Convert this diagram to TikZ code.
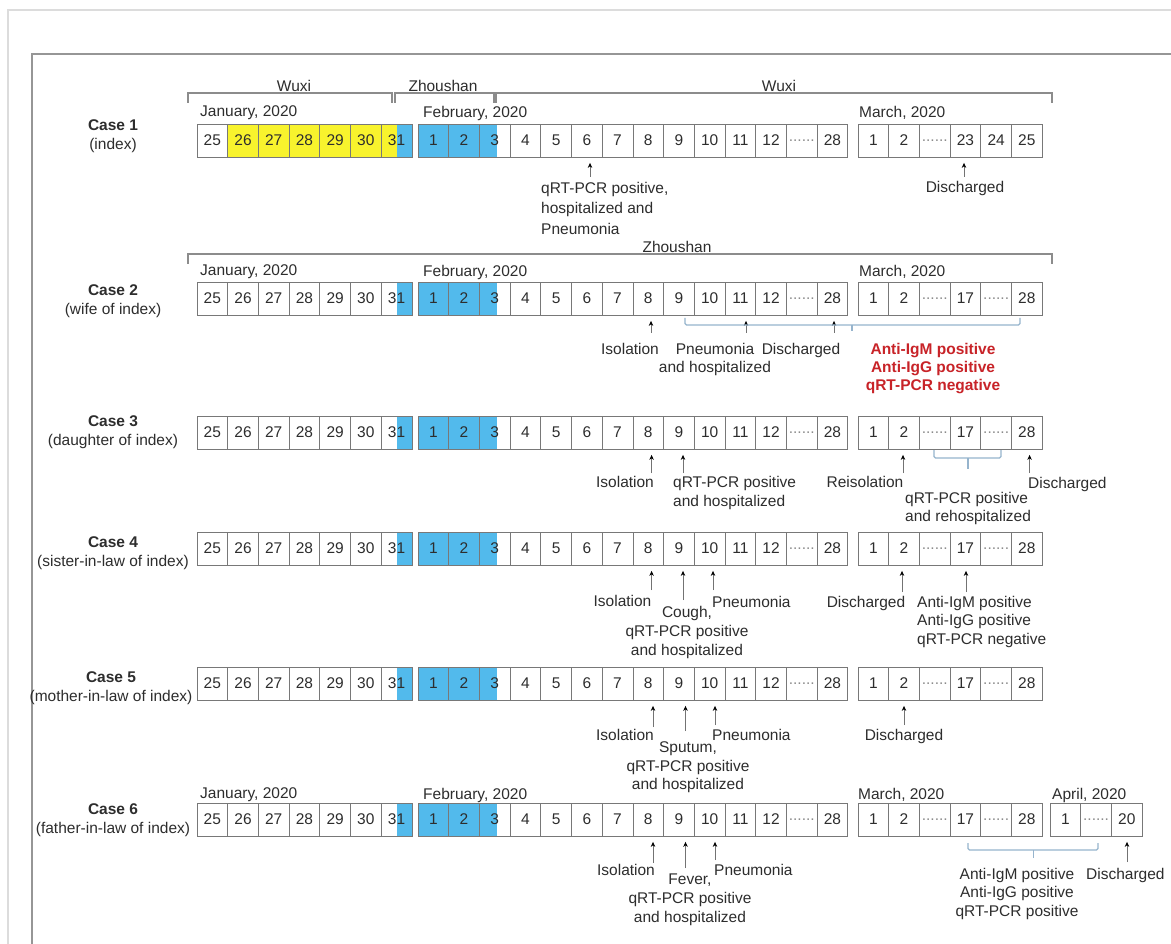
\documentclass[tikz,border=0pt]{standalone}
\usepackage{fontspec}
\setmainfont{Liberation Sans}
\usetikzlibrary{arrows.meta}
\definecolor{cyel}{RGB}{248,243,45}
\definecolor{cblu}{RGB}{82,186,236}
\definecolor{cbrd}{RGB}{120,120,120}
\definecolor{ctxt}{RGB}{45,45,45}
\definecolor{cbrk}{RGB}{140,140,140}
\definecolor{cbrc}{RGB}{150,180,205}
\definecolor{cred}{RGB}{200,35,40}
\definecolor{cfra}{RGB}{220,220,220}
\definecolor{cfrb}{RGB}{150,150,150}
\protected\def\dts{\textcolor{ctxt!55}{......}}
% #1 row id, #2 top y, #3 March labels
\newcommand{\dayrow}[3]{%
  \foreach \d [count=\i from 0] in {25,26,27,28,29,30,31}
    \node[cell] (#1j\i) at ({197+30.7*(\i+0.5)},{#2+16.5}) {\d};
  \foreach \d [count=\i from 0] in {1,2,3,4,5,6,7,8,9,10,11,12,\dts,28}
    \node[cell] (#1f\i) at ({418+30.7*(\i+0.5)},{#2+16.5}) {\d};
  \foreach \d [count=\i from 0] in {#3}
    \node[cell] (#1m\i) at ({858+30.7*(\i+0.5)},{#2+16.5}) {\d};
}
\newcommand{\blufill}[1]{%
  \fill[cblu] (396.7,#1) rectangle (411.9,#1+33);
  \fill[cblu] (418,#1) rectangle (497,#1+33);
}
% #1 coord name, #2 x, #3 tail y, #4 target cell
\newcommand{\marr}[4]{%
  \coordinate (#1) at (#2,#3);
  \draw[arr] (#1) -- (#1 |- #4.south);
}
\begin{document}
\begin{tikzpicture}[x=1pt,y=-1pt,
  txtfont/.style={font=\fontsize{15.5}{19}\selectfont},
  every node/.style={txtfont, text=ctxt},
  cell/.style={draw=cbrd, line width=0.8pt, minimum width=30.7pt, minimum height=33pt, inner sep=0pt, anchor=center},
  lbl/.style={inner sep=0pt, anchor=north, align=center},
  lbll/.style={inner sep=0pt, anchor=north west, align=left},
  month/.style={inner sep=0pt, anchor=west},
  caselbl/.style={inner sep=0pt, anchor=north, align=center, font=\fontsize{15.5}{18.5}\selectfont},
  redlbl/.style={inner sep=0pt, anchor=north, align=center, text=cred, font=\fontsize{15.5}{18}\selectfont\bfseries},
  arr/.style={draw=black!55, line width=0.8pt, shorten >=5.5pt, -{Stealth[length=5pt,width=4.5pt,color=black]}},
  reg/.style={draw=cbrk, line width=1.1pt},
  brc/.style={draw=cbrc, line width=1.1pt, rounded corners=1.5pt}]
\path[use as bounding box, fill=white] (0,0) rectangle (1171,944);
% frames
\draw[cfra, line width=1.5pt] (8,960) -- (8,10) -- (1190,10);
\draw[cfrb, line width=1.2pt] (32,960) -- (32,54) -- (1190,54);

% region brackets
\draw[reg] (188,103) -- (188,93) -- (392,93) -- (392,103);
\draw[reg] (395,103) -- (395,93) -- (494,93) -- (494,103);
\draw[reg] (496,103) -- (496,93) -- (1052,93) -- (1052,103);
\node[lbl] (rw1) at (294,79.6) {Wuxi};
\node[lbl] (rz1) at (443,79.6) {Zhoushan};
\node[lbl] (rw2) at (779,79.6) {Wuxi};
\draw[reg] (188,264) -- (188,254) -- (1052,254) -- (1052,264);
\node[lbl] (rz2) at (677,240.6) {Zhoushan};

% month labels
\node[month] (m1j) at (200,113) {January, 2020};
\node[month] (m1f) at (423,113) {February, 2020};
\node[month] (m1m) at (859,113) {March, 2020};
\node[month] (m2j) at (200,272) {January, 2020};
\node[month] (m2f) at (423,272) {February, 2020};
\node[month] (m2m) at (859,272) {March, 2020};
\node[month] (m6j) at (200,795) {January, 2020};
\node[month] (m6f) at (423,795) {February, 2020};
\node[month] (m6m) at (858,795) {March, 2020};
\node[month] (m6a) at (1052,795) {April, 2020};

% case labels
\node[caselbl] (c1) at (113,119.6) {\textbf{Case 1}\\(index)};
\node[caselbl] (c2) at (113,284.6) {\textbf{Case 2}\\(wife of index)};
\node[caselbl] (c3) at (113,415.6) {\textbf{Case 3}\\(daughter of index)};
\node[caselbl] (c4) at (113,536.6) {\textbf{Case 4}\\(sister-in-law of index)};
\node[caselbl] (c5) at (111,671.6) {\textbf{Case 5}\\(mother-in-law of index)};
\node[caselbl] (c6) at (113,803.6) {\textbf{Case 6}\\(father-in-law of index)};

% fills
\fill[cyel] (227.7,124) rectangle (396.7,157);
\blufill{124}
\blufill{282}
\blufill{416}
\blufill{532}
\blufill{667}
\blufill{803}

% rows
\dayrow{r1}{124}{1,2,\dts,23,24,25}
\dayrow{r2}{282}{1,2,\dts,17,\dts,28}
\dayrow{r3}{416}{1,2,\dts,17,\dts,28}
\dayrow{r4}{532}{1,2,\dts,17,\dts,28}
\dayrow{r5}{667}{1,2,\dts,17,\dts,28}
\dayrow{r6}{803}{1,2,\dts,17,\dts,28}
\foreach \d [count=\i from 0] in {1,\dts,20}
  \node[cell] (r6a\i) at ({1050+30.7*(\i+0.5)},819.5) {\d};

% ---- Case 1 annotations
\marr{t1a}{590}{177}{r1f5}
\marr{t1b}{964}{177}{r1m3}
\node[lbll, font=\fontsize{15.5}{20.5}\selectfont] (n1a) at (541,181.6) {qRT-PCR positive,\\hospitalized and\\Pneumonia};
\node[lbl] (n1b) at (965,180.6) {Discharged};

% ---- Case 2 annotations
\marr{t2a}{651}{333}{r2f7}
\marr{t2b}{746}{333}{r2f10}
\marr{t2c}{834}{333}{r2f13}
\node[lbl] (n2a) at (630,342.6) {Isolation};
\node[lbl, font=\fontsize{15.5}{18}\selectfont] (n2b) at (715,342.6) {Pneumonia\\and hospitalized};
\node[lbl] (n2c) at (801,342.6) {Discharged};
\draw[brc] (685,318) -- (685,325) -- (1020,325) -- (1020,318);
\draw[brc] (852,325) -- (852,331);
\node[redlbl] (n2d) at (933,342.6) {Anti-IgM positive\\Anti-IgG positive\\qRT-PCR negative};

% ---- Case 3 annotations
\marr{t3a}{651.6}{473}{r3f7}
\marr{t3b}{683}{473}{r3f8}
\marr{t3c}{903}{473}{r3m1}
\marr{t3d}{1029.6}{473}{r3m5}
\node[lbl] (n3a) at (625,475.6) {Isolation};
\node[lbll] (n3b) at (673,475.6) {qRT-PCR positive\\and hospitalized};
\node[lbl] (n3c) at (865,475.6) {Reisolation};
\node[lbll, font=\fontsize{15.5}{18.5}\selectfont] (n3d) at (905,491.6) {qRT-PCR positive\\and rehospitalized};
\node[lbll] (n3e) at (1028,476.6) {Discharged};
\draw[brc] (934,450) -- (934,458) -- (1001,458) -- (1001,450);
\draw[brc] (968,458) -- (968,469);

% ---- Case 4 annotations
\marr{t4a}{651.6}{590}{r4f7}
\marr{t4b}{683}{600}{r4f8}
\marr{t4c}{713}{590}{r4f9}
\marr{t4d}{902}{592}{r4m1}
\marr{t4e}{966}{592}{r4m3}
\node[lbl] (n4a) at (622.5,594.6) {Isolation};
\node[lbl] (n4b) at (687,605.6) {Cough,\\qRT-PCR positive\\and hospitalized};
\node[lbll] (n4c) at (712,595.6) {Pneumonia};
\node[lbl] (n4d) at (866,595.6) {Discharged};
\node[lbll, font=\fontsize{15.5}{18.5}\selectfont] (n4e) at (917,595.6) {Anti-IgM positive\\Anti-IgG positive\\qRT-PCR negative};

% ---- Case 5 annotations
\marr{t5a}{653}{727}{r5f7}
\marr{t5b}{685.5}{731}{r5f8}
\marr{t5c}{715}{725}{r5f9}
\marr{t5d}{904}{725}{r5m1}
\node[lbl] (n5a) at (625,728.6) {Isolation};
\node[lbl, font=\fontsize{15.5}{18.5}\selectfont] (n5b) at (688,741.6) {Sputum,\\qRT-PCR positive\\and hospitalized};
\node[lbll] (n5c) at (712,728.6) {Pneumonia};
\node[lbl] (n5d) at (904,728.6) {Discharged};

% ---- Case 6 annotations
\marr{t6a}{653}{863}{r6f7}
\marr{t6b}{685.5}{868}{r6f8}
\marr{t6c}{715}{860}{r6f9}
\marr{t6d}{1127}{862}{r6a2}
\node[lbl] (n6a) at (626,863.6) {Isolation};
\node[lbl] (n6b) at (690,873.6) {Fever,\\qRT-PCR positive\\and hospitalized};
\node[lbll] (n6c) at (714,863.6) {Pneumonia};
\draw[brc] (968,843) -- (968,850) -- (1098,850) -- (1098,843);
\draw[brc] (1033.5,850) -- (1033.5,858);
\node[lbl, font=\fontsize{15.5}{18.5}\selectfont] (n6d) at (1017,867.6) {Anti-IgM positive\\Anti-IgG positive\\qRT-PCR positive};
\node[lbll] (n6e) at (1086,867.6) {Discharged};
\end{tikzpicture}
\end{document}
